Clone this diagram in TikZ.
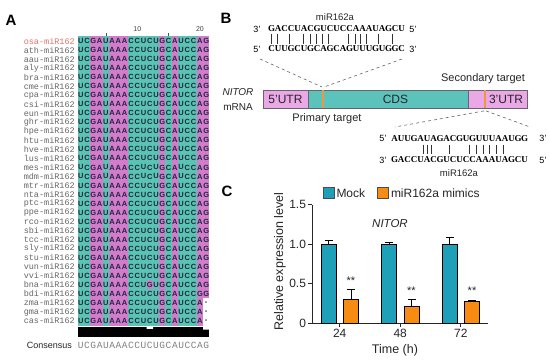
\documentclass[tikz,border=0pt]{standalone}
\usepackage{fontspec}
\setmainfont{Liberation Serif}
\setsansfont{Liberation Sans}
\setmonofont{Liberation Mono}
\usepackage{tikz}
\usetikzlibrary{positioning}
\definecolor{pyrteal}{RGB}{90,196,178}
\definecolor{purpink}{RGB}{212,124,204}
\colorlet{ntU}{pyrteal}
\colorlet{ntC}{pyrteal}
\colorlet{ntA}{purpink}
\colorlet{ntG}{purpink}
\colorlet{ntgap}{white}
\definecolor{ntink}{RGB}{32,36,64}
\definecolor{osared}{RGB}{230,112,104}
\definecolor{utrpink}{RGB}{234,168,230}
\definecolor{cdsteal}{RGB}{92,194,188}
\definecolor{siteorange}{RGB}{238,150,64}
\definecolor{mockteal}{RGB}{30,160,184}
\definecolor{mimicorange}{RGB}{248,140,18}

\begin{document}
\begin{tikzpicture}[x=1pt,y=-1pt,
  panel/.style={inner sep=0pt,font=\sffamily\bfseries\fontsize{15}{17}\selectfont},
  species/.style={anchor=east,inner sep=0pt,text=gray!80!black,font=\ttfamily\fontsize{8.5}{9}\selectfont},
  nt/.style={minimum width=6.5pt,minimum height=9.3pt,inner sep=0pt,text=ntink,font=\sffamily\bfseries\fontsize{7.5}{8}\selectfont},
  ruler/.style={inner sep=0pt,text=black!75,font=\sffamily\fontsize{7}{8}\selectfont},
  consensus/.style={inner sep=0pt,text=gray,font=\ttfamily\fontsize{9.5}{10}\selectfont},
  lab/.style={inner sep=1pt,text=black!85,font=\sffamily\fontsize{11}{13}\selectfont},
  seq/.style={inner sep=0pt,font=\rmfamily\bfseries\fontsize{9}{10}\selectfont},
  prime/.style={inner sep=0pt,font=\sffamily\fontsize{9}{10}\selectfont},
  pair/.style={line width=0.7pt,black!80},
  guide/.style={dashed,gray!80!black,line width=0.6pt},
  region/.style={draw=black!60,line width=0.6pt,minimum height=18pt,inner sep=0pt,text=black!85,font=\sffamily\fontsize{12}{14}\selectfont},
  site/.style={fill=siteorange,minimum width=2.2pt,minimum height=18pt,inner sep=0pt},
  keybox/.style={draw=black!70,line width=0.6pt,minimum size=11pt,inner sep=0pt},
  chartaxis/.style={line width=1pt,black!85},
  exprbar/.style={draw=black,line width=0.9pt},
  errbar/.style={line width=0.9pt,black},
  ticklab/.style={inner sep=1.5pt,text=black!85,font=\sffamily\fontsize{12}{14}\selectfont},
  stars/.style={anchor=south,inner sep=0pt,yshift=5pt,text=black!85,font=\sffamily\fontsize{11}{13}\selectfont}
]
\useasboundingbox (0,0) rectangle (550,362);
\fill[white] (0,0) rectangle (550,362);

\node[panel] (labelA) at (11,20) {A};
\node[ruler] (ruler10) at (137.3,29) {10};
\node[ruler] (ruler20) at (200,29) {20};
\draw[black!70,line width=0.6pt] (105.9,33) -- (105.9,37) (168.6,33) -- (168.6,37);

\node[species,text=osared] (sp-osa) at (75,41) {osa-miR162};
\foreach \sp [count=\r from 1] in {ath,aau,aly,bra,cme,cpa,csi,eun,ghr,hpe,htu,hve,lus,mes,mdm,mtr,nta,ptc,ppe,rco,sbi,tcc,sly,stu,vun,vvi,bna,bdi,zma,gma,cas}
  \node[species] (sp-\sp) at (75,41+9.03*\r) {\sp-miR162};
\foreach \r in {0,...,31}
  \foreach \l [count=\c from 0] in {U,C,G,A,U,A,A,A,C,C,U,C,U,G,C,A,U,C,C,A,G} {
    \edef\nl{\l}\edef\nx{\l}
    \ifnum\r=27 \ifnum\c=11 \def\nl{G}\def\nx{G}\fi\fi
    \ifnum\r=28 \ifnum\c=19 \def\nl{G}\def\nx{G}\fi\fi
    \ifnum\r>28 \ifnum\c=20 \def\nl{gap}\def\nx{-}\fi\fi
    \node[nt,fill=nt\nl] (nt-\r-\c) at (80.8+6.27*\c,41+9.03*\r) {\nx};
  }

\fill[black] (77.7,327) rectangle (209.4,337);
\fill[white] (146.7,327) rectangle (153,328.8) (203.1,327) rectangle (209.4,329.5);
\node[lab,anchor=east,inner sep=0pt,font=\sffamily\fontsize{9}{10}\selectfont] (consensus) at (72,345) {Consensus};
\foreach \l [count=\c from 0] in {U,C,G,A,U,A,A,A,C,C,U,C,U,G,C,A,U,C,C,A,G}
  \node[consensus] (cons-\c) at (80.8+6.27*\c,345) {\l};

\node[panel] (labelB) at (226,18) {B};
\node[lab,font=\sffamily\fontsize{9.5}{11}\selectfont] (mir-top) at (335,17) {miR162a};
\node[prime] (pmir-end3) at (257,29) {3'};
\node[prime] (pmir-end5) at (413,29) {5'};
\node[prime] (ptgt-end5) at (257,49) {5'};
\node[prime] (ptgt-end3) at (413,49) {3'};
\foreach \l [count=\c from 0] in {G,A,C,C,U,A,C,G,U,C,U,C,C,A,A,A,U,A,G,C,U}
  \node[seq] (pmir-\c) at (271.5+6.5*\c,29) {\l};
\foreach \l [count=\c from 0] in {C,U,U,G,C,U,G,C,A,G,C,A,G,U,U,U,G,U,G,G,C}
  \node[seq] (ptgt-\c) at (271.5+6.5*\c,49) {\l};
\foreach \x in {271.7,277.3,289.3,303.3,310,316.7,322.7,328.3,348.3,355,360.7,366.7,378.3,392.7}
  \draw[pair] (\x,34) -- (\x,43.5);

\node[lab,font=\sffamily\itshape\fontsize{10}{12}\selectfont] (gene-name) at (238,92) {NITOR};
\node[lab,font=\sffamily\fontsize{10}{12}\selectfont] (gene-kind) at (238,107) {mRNA};
\node[region,fill=utrpink,minimum width=45pt] (utr5) at (285.5,99.2) {5'UTR};
\node[region,fill=cdsteal,minimum width=15pt] (cds-head) at (315.5,99.2) {};
\node[region,fill=cdsteal,minimum width=145pt] (cds) at (395.5,99.2) {CDS};
\node[region,fill=utrpink,minimum width=17pt] (utr3-head) at (476.5,99.2) {};
\node[region,fill=utrpink,minimum width=42pt] (utr3) at (506,99.2) {3'UTR};
\node[site] (primary) at (323,99.2) {};
\node[site] (secondary) at (485,99.2) {};
\node[lab] (primary-lab) at (327,119) {Primary target};
\node[lab] (secondary-lab) at (483,79) {Secondary target};

\coordinate (pri-left) at (260,59);
\coordinate (pri-right) at (402,59);
\draw[guide] (pri-left) -- ([shift={(-1pt,3pt)}]primary.north);
\draw[guide] (pri-right) -- ([shift={(1pt,3pt)}]primary.north);
\coordinate (sec-left) at (395,127);
\coordinate (sec-right) at (530,127);
\draw[guide] ([shift={(-1pt,-2.5pt)}]secondary.south) -- (sec-left);
\draw[guide] ([shift={(1pt,-2.5pt)}]secondary.south) -- (sec-right);

\node[prime] (stgt-end5) at (383,138.5) {5'};
\node[prime] (stgt-end3) at (543,138.5) {3'};
\node[prime] (smir-end3) at (383,160) {3'};
\node[prime] (smir-end5) at (543,160) {5'};
\foreach \l [count=\c from 0] in {A,U,U,G,A,U,A,G,A,C,G,U,G,U,U,U,A,A,U,G,G}
  \node[seq] (stgt-\c) at (394.5+6.5*\c,138.5) {\l};
\foreach \l [count=\c from 0] in {G,A,C,C,U,A,C,G,U,C,U,C,C,A,A,A,U,A,G,C,U}
  \node[seq] (smir-\c) at (394.5+6.5*\c,160) {\l};
\foreach \x in {423,427,431,449,469,476,483,489,496,503}
  \draw[pair] (\x,144.5) -- (\x,154);
\node[lab,font=\sffamily\fontsize{9.5}{11}\selectfont] (mir-bottom) at (459,173) {miR162a};

\node[panel] (labelC) at (227,191) {C};
\node[keybox,fill=mockteal] (key-mock) at (328.5,193) {};
\node[lab,font=\sffamily\fontsize{12}{14}\selectfont,right=1pt of key-mock] (key-mock-lab) {Mock};
\node[keybox,fill=mimicorange] (key-mimic) at (383,193) {};
\node[lab,font=\sffamily\fontsize{12}{14}\selectfont,right=1pt of key-mimic] (key-mimic-lab) {miR162a mimics};
\node[lab,font=\sffamily\itshape\fontsize{11.5}{13}\selectfont] (chart-title) at (390,224) {NITOR};
\node[lab,font=\sffamily\fontsize{12.5}{14}\selectfont,rotate=90] (ylabel) at (280,261.5) {Relative expression level};
\node[lab,font=\sffamily\fontsize{12.5}{14}\selectfont] (xlabel) at (395,350) {Time (h)};

\begin{scope}[shift={(312,323)},y=79pt]
  \draw[chartaxis] (0,1.5) -- (0,0) -- (176,0);
  \foreach \v/\t [count=\k] in {0/0,0.5/0.5,1/1.0,1.5/1.5}
    \draw[chartaxis] (0,\v) -- ++(-4pt,0) node[ticklab,left] (ytick-\k) {\t};
  \foreach \h/\mk/\mke/\mm/\mme [count=\g from 0] in {24/1.00/0.04/0.30/0.12,48/1.00/0.02/0.21/0.09,72/1.00/0.08/0.27/0.02} {
    \pgfmathsetmacro\xk{16.5+60.5*\g}
    \pgfmathsetmacro\xm{39+60.5*\g}
    \pgfmathsetmacro\xt{27.75+60.5*\g}
    \draw[errbar] (\xk,\mk) -- (\xk,\mk+\mke) ++(-4pt,0) -- ++(8pt,0);
    \draw[errbar] (\xm,\mm) -- (\xm,\mm+\mme) ++(-4pt,0) -- ++(8pt,0);
    \draw[exprbar,fill=mockteal] (\xk-7.5,0) rectangle (\xk+7.5,\mk);
    \draw[exprbar,fill=mimicorange] (\xm-7.5,0) rectangle (\xm+7.5,\mm);
    \node[stars] (sig-\h) at (\xm,\mm+\mme) {**};
    \draw[chartaxis] (\xt,0) -- ++(0,-4pt) node[ticklab,below] (xtick-\h) {\h};
  }
\end{scope}
\end{tikzpicture}
\end{document}
